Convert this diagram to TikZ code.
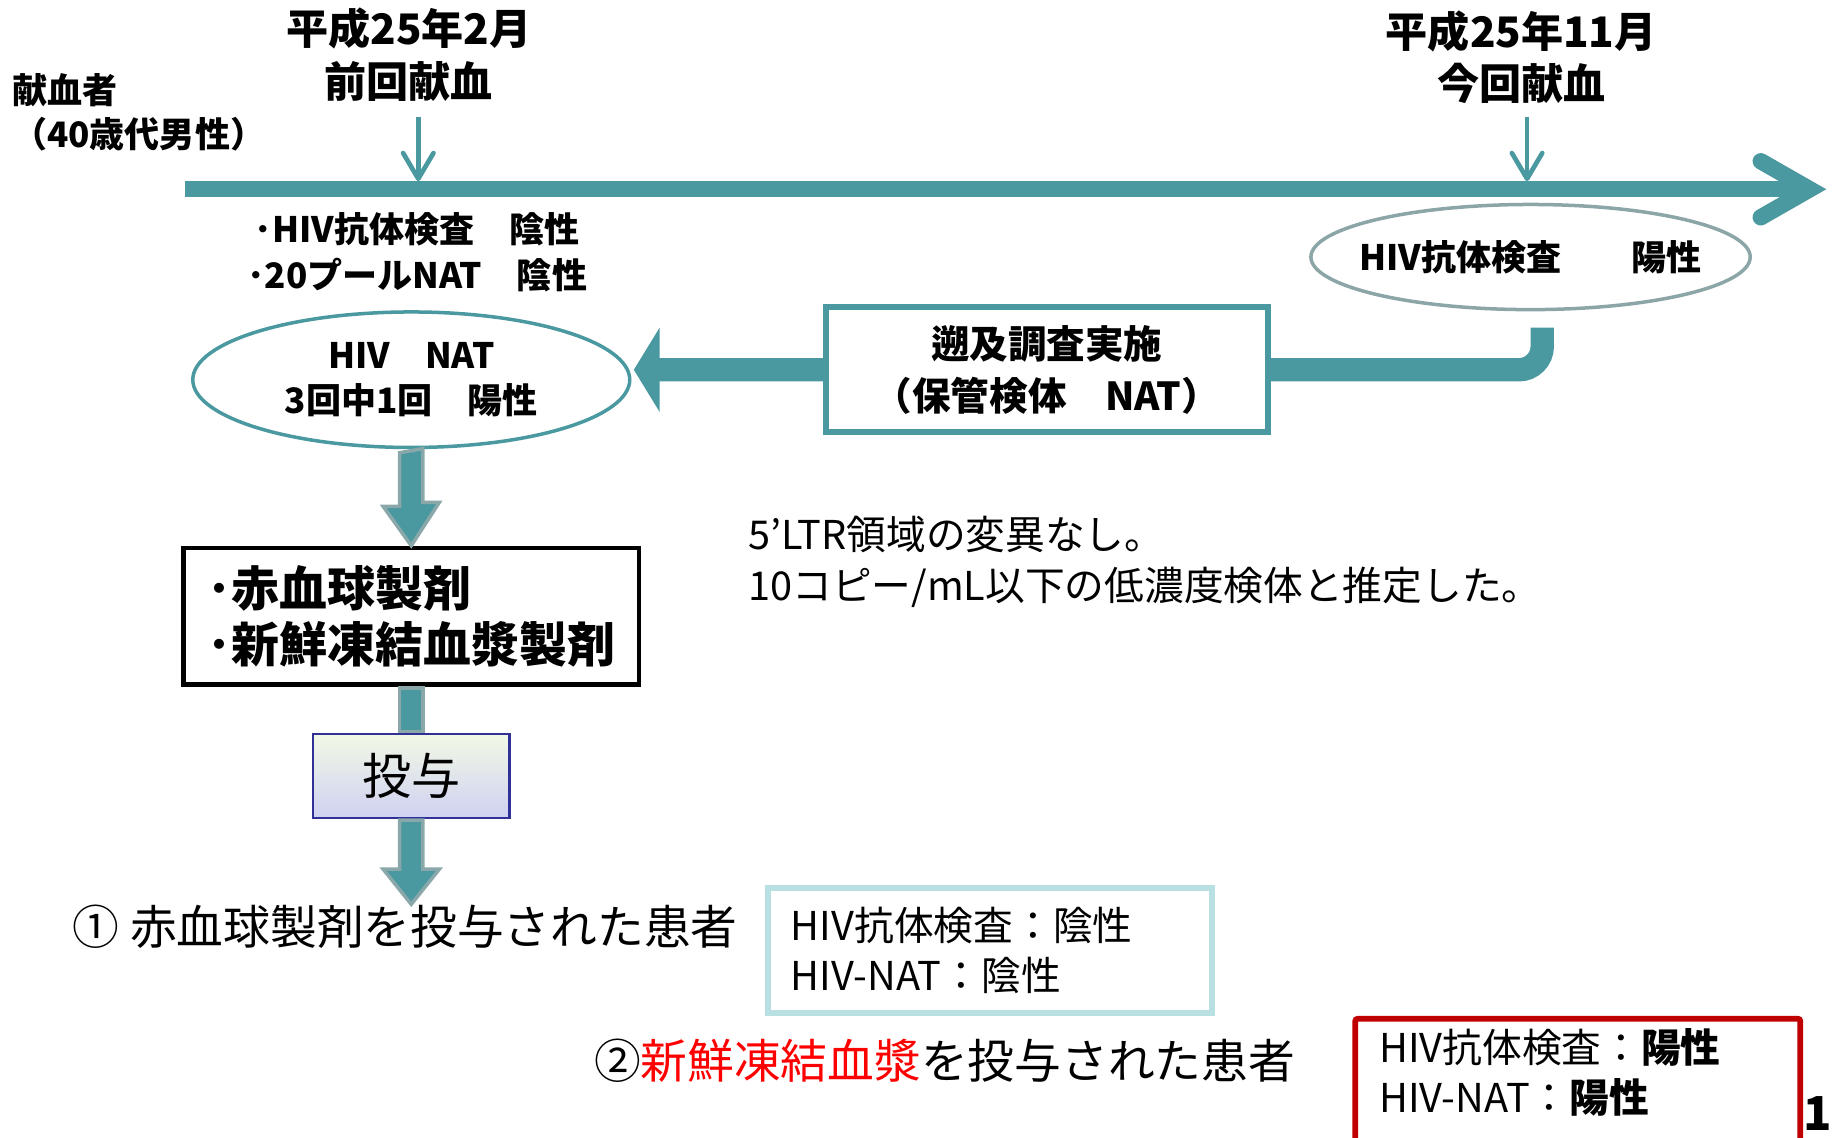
\documentclass[tikz,border=0pt]{standalone}
\usepackage{fontspec}
\setmainfont{Noto Sans CJK JP}
\usetikzlibrary{shapes.geometric,arrows.meta,calc,shadings}
\definecolor{tl}{RGB}{74,152,160}
\definecolor{tlgray}{RGB}{140,166,168}
\definecolor{arrbd}{RGB}{138,168,170}
\definecolor{cyanbd}{RGB}{184,224,226}
\definecolor{redbd}{RGB}{192,0,0}
\definecolor{bluebd}{RGB}{48,48,150}
\definecolor{redtx}{RGB}{255,0,0}
\definecolor{gradtop}{RGB}{242,249,230}
\definecolor{gradbot}{RGB}{207,209,241}
\begin{document}
\begin{tikzpicture}[x=0.5pt,y=-0.5pt,
  txt/.style={inner sep=0pt,align=center},
  barrow/.style={fill=tl,draw=arrbd,line width=1.5pt,line join=miter},
  smarrow/.style={draw=tl,line width=2pt,-{Straight Barb[length=11pt,width=13pt,round]}},
  thick teal/.style={draw=tl,line width=10pt}]
\useasboundingbox (0,0) rectangle (1568,974);
\clip (0,0) rectangle (1568,974);

% timeline
\coordinate (tlL) at (158,162);
\coordinate (tlR) at (1549,162);
\draw[tl,line width=7pt] (tlL) -- (tlR);
\draw[tl,line width=7pt,line cap=round,line join=miter]
  ($(tlR)+(-42,-24)$) -- (tlR) -- ($(tlR)+(-42,24)$);

% labels above timeline
\node[txt,anchor=west,align=left,font=\fontsize{15}{19}\selectfont\bfseries] (donor) at (10,96) {献血者\\（40歳代男性）};
\node[txt,font=\fontsize{18}{22.5}\selectfont\bfseries] (d1) at (350,47) {平成25年2月\\前回献血};
\node[txt,font=\fontsize{18}{22.5}\selectfont\bfseries] (d2) at (1302,49) {平成25年11月\\今回献血};
\coordinate (a1top) at (358,100);
\coordinate (a1bot) at (358,155);
\coordinate (a2top) at (1307,100);
\coordinate (a2bot) at (1307,155);
\draw[smarrow] (a1top) -- (a1bot);
\draw[smarrow] (a2top) -- (a2bot);

% results of previous donation
\node[txt,font=\fontsize{15}{19.5}\selectfont\bfseries] (neg) at (357,216) {･HIV抗体検査　陰性\\･20プールNAT　陰性};

% right ellipse
\node[ellipse,draw=tlgray,line width=1.5pt,minimum width=188pt,minimum height=45pt,inner xsep=-15pt,inner ysep=0pt,
  font=\fontsize{15}{19}\selectfont\bfseries] (ellR) at (1310,220) {HIV抗体検査　　陽性};

% left ellipse
\node[ellipse,draw=tl,line width=1.5pt,minimum width=187pt,minimum height=58pt,inner sep=0pt,align=center,
  font=\fontsize{15}{19}\selectfont\bfseries] (ellL) at (352,325) {HIV　NAT\\3回中1回　陽性};

% retrospective box
\node[draw=tl,line width=2.5pt,fill=white,minimum width=189pt,minimum height=53.5pt,inner sep=0pt,align=center,
  font=\fontsize{16.5}{22.5}\selectfont\bfseries] (boxR) at (896,316.5) {遡及調査実施\\（保管検体　NAT）};

% bent thick arrow
\draw[thick teal,rounded corners=10pt]
  (boxR.east) -- ([xshift=5pt]boxR.east -| ellR.south) -- ([xshift=5pt,yshift=-7pt]ellR.south);
\fill[tl] ($(boxR.west)+(0,-10)$) -- ($(boxR.west)+(-140,-10)$) -- ++(0,-26)
  -- ($(boxR.west)+(-162,0)$) -- ($(boxR.west)+(-140,36)$) -- ++(0,-26)
  -- ($(boxR.west)+(0,10)$) -- cycle;

% products box
\node[draw=black,line width=2pt,minimum width=195pt,minimum height=58.5pt,inner xsep=10.5pt,inner ysep=0pt,
  text width=174pt,align=left,font=\fontsize{20.5}{24}\selectfont\bfseries] (prod) at (352,527.5) {･赤血球製剤\\･新鮮凍結血漿製剤};

% administration box
\node[draw=bluebd,line width=1pt,top color=gradtop,bottom color=gradbot,minimum width=84pt,minimum height=36pt,
  inner sep=0pt,font=\fontsize{21}{21}\selectfont] (toyo) at (352,664) {投与};

% patient 1
\node[txt,anchor=west,font=\fontsize{20}{24}\selectfont] (p1) at (62,793) {① 赤血球製剤を投与された患者};

% block arrows
\draw[barrow] ($(ellL.south)+(-10,3)$) -- ++(0,46) -- ++(-14,0) -- (prod.north) -- ++(24,-37)
  -- ++(-14,0) -- ++(0,-46) -- cycle;
\draw[barrow] ($(prod.south)+(-10,1)$) rectangle ($(toyo.north)+(10,-1)$);
\draw[barrow] ($(toyo.south)+(-10,1)$) -- ($(toyo.south |- p1.north)+(-10,-30)$) -- ++(-14,0)
  -- (toyo.south |- p1.north) -- ++(24,-30) -- ++(-14,0) -- ($(toyo.south)+(10,1)$) -- cycle;

% note
\node[txt,anchor=west,align=left,font=\fontsize{17}{21.5}\selectfont] (note) at (640,481)
  {5’LTR領域の変異なし。\\10コピー/mL以下の低濃度検体と推定した。};

% result 1
\node[draw=cyanbd,line width=2.5pt,minimum width=190pt,minimum height=53.5pt,inner xsep=10pt,inner ysep=0pt,
  text width=170pt,align=left,font=\fontsize{17}{21.5}\selectfont] (res1) at (847,813.5) {HIV抗体検査：陰性\\HIV-NAT：陰性};

% patient 2
\node[txt,anchor=west,font=\fontsize{20}{24}\selectfont] (p2) at (508,908) {②\textcolor{redtx}{新鮮凍結血漿}を投与された患者};

% result 2
\node[inner xsep=10pt,inner ysep=4pt,text width=170pt,align=left,anchor=north west,
  font=\fontsize{17}{21.5}\selectfont] (res2) at (1160,872) {HIV抗体検査：\textbf{陽性}\\HIV-NAT：\textbf{陽性}};
\draw[redbd,line width=2.5pt,rounded corners=1pt] (res2.south west) ++(0,60) |- (res2.north east) -- ++(0,160);

% page number
\node[inner sep=0pt,anchor=base west,font=\fontsize{20}{20}\selectfont\bfseries] (pg) at (1543,968) {1};
\end{tikzpicture}
\end{document}
